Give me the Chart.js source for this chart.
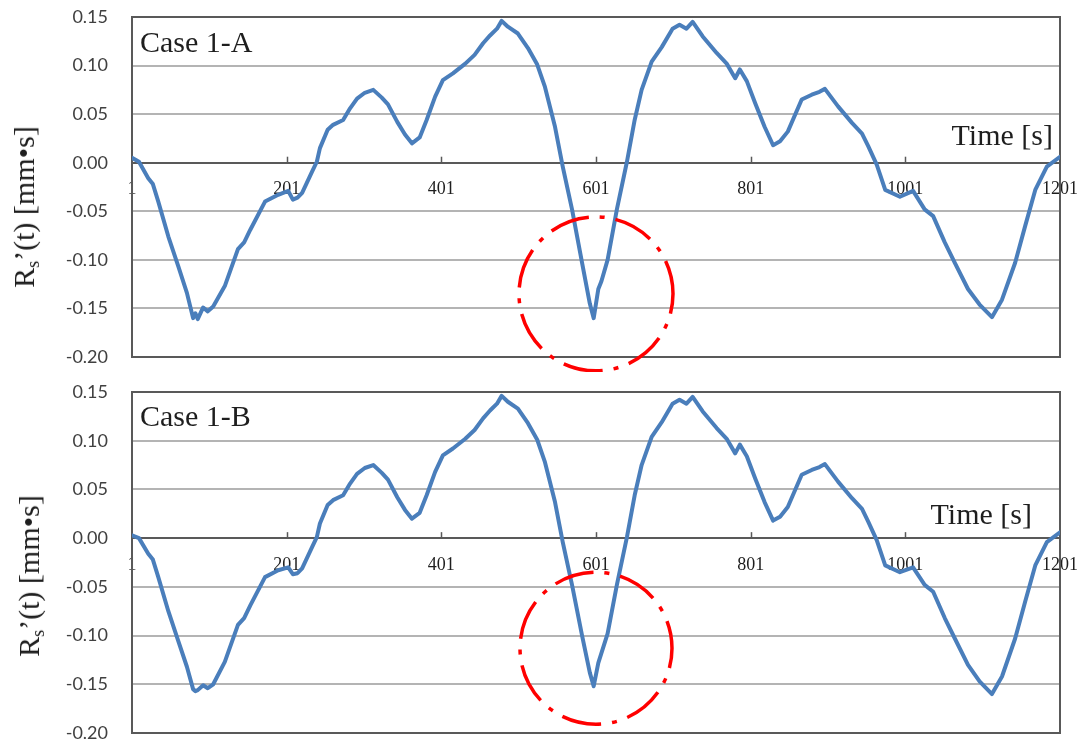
<!DOCTYPE html>
<html>
<head>
<meta charset="utf-8">
<script src="https://cdn.jsdelivr.net/npm/chart.js@4/dist/chart.umd.min.js"></script>
<style>
  html, body { margin: 0; padding: 0; background: #fff; }
  #wrap { position: relative; width: 1089px; height: 745px; overflow: hidden; }
  canvas { position: absolute; left: 0; }
  .lbl { position: absolute; white-space: nowrap; line-height: 1; color: #1e1e1e;
         font-family: "Liberation Serif", "DejaVu Serif", serif; font-size: 30px; }
  .ytitle { transform: translate(-50%, -50%) rotate(-90deg); }
  .ytitle sub { font-size: 18px; vertical-align: -5px; line-height: 0; }
</style>
</head>
<body>
<div id="wrap">
  <canvas id="chartA" width="1089" height="372" style="top:0"></canvas>
  <canvas id="chartB" width="1089" height="373" style="top:372px"></canvas>

  <div class="lbl" style="left:140px; top:42px; transform: translateY(-50%);">Case 1-A</div>
  <div class="lbl" style="left:1053px; top:135px; transform: translate(-100%, -50%);">Time [s]</div>
  <div class="lbl ytitle" style="left:24px; top:207px;">R<sub>s</sub>’(t) [mm•s]</div>

  <div class="lbl" style="left:140px; top:416px; transform: translateY(-50%);">Case 1-B</div>
  <div class="lbl" style="left:1032px; top:514px; transform: translate(-100%, -50%);">Time [s]</div>
  <div class="lbl ytitle" style="left:29px; top:576px;">R<sub>s</sub>’(t) [mm•s]</div>
</div>

<script>
// Sample times [s]
const times = [1, 10, 22, 28, 35, 48, 61, 72, 80, 83, 86, 93, 99, 106, 121, 138, 146, 154, 173, 190,
  203, 209, 215, 221, 234, 240, 244, 254, 261, 274, 283, 292, 302, 313, 324, 332, 344, 354, 363, 373,
  382, 393, 403, 416, 432, 444, 455, 464, 473, 479, 487, 500, 513, 525, 535, 548, 558, 570, 583, 593,
  598, 604, 608, 616, 628, 641, 651, 660, 673, 686, 700, 709, 718, 726, 739, 757, 770, 781, 787, 796,
  807, 819, 830, 839, 849, 867, 880, 890, 897, 914, 932, 945, 953, 964, 975, 994, 1011, 1026, 1037, 1052,
  1065, 1082, 1097, 1113, 1126, 1143, 1156, 1169, 1184, 1201];

// Rs'(t) [mm·s], Case 1-A
const caseA = [0.005, 0.001, -0.016, -0.022, -0.040, -0.076, -0.107, -0.134, -0.160, -0.155, -0.161, -0.149, -0.153, -0.148, -0.127, -0.089, -0.082, -0.069, -0.040, -0.033,
  -0.029, -0.038, -0.036, -0.031, -0.009, 0.001, 0.015, 0.034, 0.039, 0.044, 0.056, 0.066, 0.072, 0.075, 0.067, 0.060, 0.042, 0.029, 0.020, 0.026,
  0.044, 0.068, 0.085, 0.092, 0.102, 0.111, 0.123, 0.131, 0.138, 0.146, 0.140, 0.133, 0.118, 0.101, 0.078, 0.037, -0.004, -0.048, -0.103, -0.145,
  -0.160, -0.130, -0.122, -0.100, -0.048, 0.001, 0.044, 0.075, 0.104, 0.119, 0.138, 0.142, 0.138, 0.145, 0.130, 0.113, 0.102, 0.087, 0.096, 0.084,
  0.061, 0.037, 0.018, 0.022, 0.032, 0.065, 0.070, 0.073, 0.076, 0.058, 0.041, 0.030, 0.017, -0.002, -0.028, -0.035, -0.029, -0.048, -0.055, -0.082,
  -0.103, -0.130, -0.146, -0.159, -0.141, -0.103, -0.065, -0.028, -0.004, 0.006];

// Rs'(t) [mm·s], Case 1-B
const caseB = [0.003, 0.000, -0.016, -0.022, -0.040, -0.075, -0.106, -0.132, -0.155, -0.157, -0.156, -0.151, -0.154, -0.150, -0.127, -0.089, -0.082, -0.069, -0.040, -0.033,
  -0.030, -0.037, -0.036, -0.031, -0.009, 0.001, 0.015, 0.034, 0.039, 0.044, 0.056, 0.066, 0.072, 0.075, 0.067, 0.060, 0.042, 0.029, 0.020, 0.026,
  0.044, 0.068, 0.085, 0.092, 0.102, 0.111, 0.123, 0.131, 0.138, 0.146, 0.140, 0.133, 0.118, 0.101, 0.078, 0.037, -0.004, -0.048, -0.100, -0.138,
  -0.152, -0.128, -0.118, -0.098, -0.048, 0.001, 0.044, 0.075, 0.104, 0.119, 0.138, 0.142, 0.138, 0.145, 0.130, 0.113, 0.102, 0.087, 0.096, 0.084,
  0.061, 0.037, 0.018, 0.022, 0.032, 0.065, 0.070, 0.073, 0.076, 0.058, 0.041, 0.030, 0.017, -0.002, -0.028, -0.035, -0.030, -0.048, -0.055, -0.082,
  -0.103, -0.130, -0.147, -0.160, -0.142, -0.103, -0.065, -0.028, -0.004, 0.006];

const xTicks = [1, 201, 401, 601, 801, 1001, 1201];
const yTicks = [-0.20, -0.15, -0.10, -0.05, 0.00, 0.05, 0.10, 0.15];

// Highlight ring around the minimum at t = 601 (centre in data units, radius in px)
const ringA = { t: 601, v: -0.135, r: 77 };
const ringB = { t: 601, v: -0.113, r: 76 };

const frameColor = '#595959';

const framePlugin = {
  id: 'frame',
  beforeDatasetsDraw(chart) {
    const { ctx, chartArea: a, scales } = chart;
    ctx.save();
    // small upward tick marks on the time axis
    const y0 = scales.y.getPixelForValue(0);
    ctx.strokeStyle = frameColor;
    ctx.lineWidth = 1.5;
    xTicks.slice(1, -1).forEach(t => {
      const x = Math.round(scales.x.getPixelForValue(t)) + 0.5;
      ctx.beginPath();
      ctx.moveTo(x, y0);
      ctx.lineTo(x, y0 - 6);
      ctx.stroke();
    });
    // plot frame
    ctx.lineWidth = 2;
    ctx.strokeRect(a.left, a.top, a.right - a.left, a.bottom - a.top);
    ctx.restore();
  },
  afterDatasetsDraw(chart, args, opts) {
    const ring = opts.ring;
    if (!ring) return;
    const { ctx, scales } = chart;
    const cx = scales.x.getPixelForValue(ring.t);
    const cy = scales.y.getPixelForValue(ring.v);
    ctx.save();
    ctx.strokeStyle = '#ff0000';
    ctx.lineWidth = 3.5;
    ctx.setLineDash([40, 11, 5, 11]);
    ctx.lineDashOffset = 20;
    ctx.beginPath();
    ctx.arc(cx, cy, ring.r, 0, Math.PI * 2);
    ctx.stroke();
    ctx.restore();
  }
};

function makeChart(id, values, pad, ring) {
  return new Chart(document.getElementById(id), {
    type: 'line',
    data: {
      datasets: [{
        data: times.map((t, i) => ({ x: t, y: values[i] })),
        borderColor: '#4a7ebb',
        borderWidth: 4,
        pointRadius: 0,
        tension: 0,
        borderJoinStyle: 'round',
        borderCapStyle: 'round'
      }]
    },
    options: {
      responsive: false,
      animation: false,
      devicePixelRatio: 1,
      events: [],
      layout: { padding: pad },
      plugins: {
        legend: { display: false },
        tooltip: { enabled: false },
        frame: { ring }
      },
      scales: {
        x: {
          type: 'linear',
          position: { y: 0 },
          min: 1,
          max: 1201,
          afterBuildTicks: s => { s.ticks = xTicks.map(v => ({ value: v })); },
          afterFit: s => { s.paddingLeft = 0; s.paddingRight = 0; },
          grid: { display: false, drawTicks: false },
          border: { display: true, color: frameColor, width: 2 },
          ticks: {
            autoSkip: false,
            maxRotation: 0,
            padding: 16,
            color: '#1e1e1e',
            font: { family: '"Liberation Serif", serif', size: 18 },
            callback: v => String(v)
          }
        },
        y: {
          min: -0.2,
          max: 0.15,
          afterBuildTicks: s => { s.ticks = yTicks.map(v => ({ value: v })); },
          afterFit: s => { s.width = 132; s.paddingTop = 0; s.paddingBottom = 0; },
          grid: { color: '#b4b4b4', lineWidth: 2, drawTicks: false },
          border: { display: true, color: frameColor, width: 2 },
          ticks: {
            padding: 24,
            color: '#404040',
            font: { family: 'Lato, sans-serif', size: 18 },
            callback: v => v.toFixed(2)
          }
        }
      }
    },
    plugins: [framePlugin]
  });
}

makeChart('chartA', caseA, { top: 17, bottom: 15, left: 0, right: 29 }, ringA);
makeChart('chartB', caseB, { top: 20, bottom: 12, left: 0, right: 29 }, ringB);
</script>
</body>
</html>
